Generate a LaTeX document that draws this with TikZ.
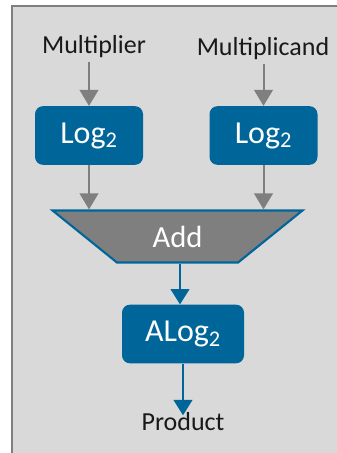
\documentclass[tikz,border=0pt]{standalone}
\usepackage{fontspec}
\setmainfont{Carlito}
\usetikzlibrary{arrows.meta,shapes.geometric}
\definecolor{panel}{HTML}{D9D9D9}
\definecolor{frame}{HTML}{7F7F7F}
\definecolor{boxblue}{HTML}{006699}
\begin{document}
\begin{tikzpicture}[x=0.75pt,y=-0.75pt,
  lbl/.style={inner sep=1pt,font=\fontsize{19.5}{20}\selectfont,text=black!90},
  logbox/.style={rectangle,rounded corners=6pt,fill=boxblue,text=white,minimum width=81pt,minimum height=44pt,font=\fontsize{24}{26}\selectfont},
  addbox/.style={trapezium,trapezium angle=39,shape border rotate=180,trapezium stretches=true,minimum width=188pt,minimum height=39pt,inner sep=0pt,fill=frame,draw=boxblue,line width=1.6pt,text=white,font=\fontsize{23}{24}\selectfont},
  garr/.style={draw=frame,line width=1.5pt,-{Triangle[width=14pt,length=12pt]}},
  barr/.style={draw=boxblue,line width=1.5pt,-{Triangle[width=14pt,length=11.5pt]}}]
\useasboundingbox (0,0) rectangle (336,453);
\fill[white] (0,0) rectangle (336,453);
\filldraw[fill=panel,draw=frame,line width=1.5pt] (12,6) rectangle (345,465);
\node[lbl] (mr) at (94,47) {Multiplier};
\node[lbl] (md) at (263,49) {Multiplicand};
\node[logbox] (lg1) at (89,135.5) {Log\textsubscript{2}};
\node[logbox] (lg2) at (263.5,135.5) {Log\textsubscript{2}};
\node[addbox] (add) at (177.5,236.5) {Add};
\node[logbox,minimum width=91.5pt] (alg) at (183,334) {ALog\textsubscript{2}};
\node[lbl] (prd) at (183,422) {Product};
\coordinate (t1) at (lg1 |- add.north);
\coordinate (t2) at (lg2 |- add.north);
\coordinate (pe) at ([yshift=-3pt]prd.north);
\draw[garr] ([yshift=-1.5pt]lg1 |- mr.south) -- (lg1);
\draw[garr] ([yshift=-1.5pt]lg2 |- md.south) -- (lg2);
\draw[garr] (lg1) -- (t1);
\draw[garr] (lg2) -- (t2);
\draw[barr] (add.south -| 180,0) -- (alg.north -| 180,0);
\draw[barr] (alg.south -| pe) -- (pe);
\end{tikzpicture}
\end{document}
